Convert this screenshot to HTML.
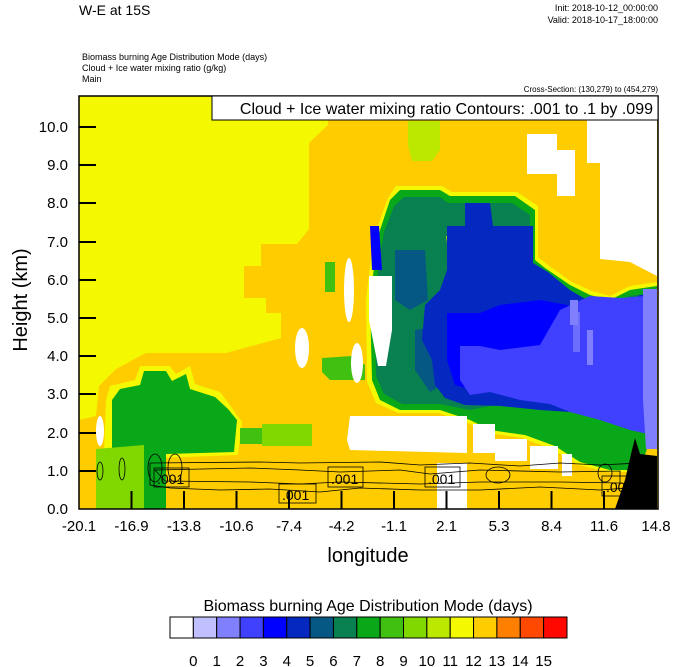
<!DOCTYPE html>
<html><head><meta charset="utf-8"><style>
html,body{margin:0;padding:0;background:#fff;}
svg{display:block;font-family:"Liberation Sans",Arial,sans-serif;}
</style></head><body>
<svg width="674" height="667" viewBox="0 0 674 667" xmlns="http://www.w3.org/2000/svg">
<text x="79" y="15" font-size="14">W-E at 15S</text>
<text x="658" y="11" font-size="9" text-anchor="end">Init: 2018-10-12_00:00:00</text>
<text x="658" y="23" font-size="9" text-anchor="end">Valid: 2018-10-17_18:00:00</text>
<text x="82" y="60" font-size="9">Biomass burning Age Distribution Mode    (days)</text>
<text x="82" y="71" font-size="9">Cloud + Ice water mixing ratio    (g/kg)</text>
<text x="82" y="82" font-size="9">Main</text>
<text x="658" y="92" font-size="8" text-anchor="end">Cross-Section: (130,279) to (454,279)</text>
<defs><clipPath id="c"><rect x="79" y="96" width="579" height="413"/></clipPath></defs>
<g clip-path="url(#c)">
<rect x="79" y="96" width="579" height="413" fill="#FFCC00"/>
<polygon fill="#F4F800" points="79,96 328,96 328,125 309,143 309,229 297,244 261,244 261,266 244,266 244,298 266,298 266,313 281,313 281,338 226,353 146,353 116,369 99,386 96,416 79,420"/>
<polygon fill="#BCE800" points="408,121 440,121 440,150 432,161 412,161 408,145"/>
<polygon fill="#F4F800" points="140,366 170,366 176,374 190,366 195,384 220,392 232,408 242,422 238,455 160,458 104,452 106,400 110,386 135,380"/>
<polygon fill="#08A818" points="144,371 166,371 172,381 186,374 190,389 215,397 228,409 237,420 234,452 166,454 112,450 112,400 120,389 140,385"/>
<polygon fill="#80D800" points="96,449 144,445 144,509 96,509"/>
<rect x="144" y="445" width="22" height="64" fill="#08A818"/>
<rect x="262" y="424" width="50" height="22" fill="#80D800"/>
<rect x="240" y="428" width="22" height="16" fill="#40C010"/>
<polygon fill="#40C010" points="322,358 352,356 365,365 365,380 330,380 322,372"/>
<rect x="325" y="262" width="10" height="30" fill="#40C010"/>
<polygon fill="#F4F800" points="396,186 442,186 452,192 517,192 538,206 538,257 548,265 572,282 592,291 610,296 630,286 657,282 657,440 650,440 640,472 608,472 578,465 552,449 522,438 488,433 468,423 438,413 398,413 376,403 367,382 366,300 371,258 377,228 388,198"/>
<polygon fill="#08A818" points="400,190 440,190 450,196 515,196 535,210 535,260 545,268 570,285 590,295 610,300 630,290 657,286 657,440 650,440 640,470 610,470 580,462 555,446 525,435 490,430 470,420 440,410 400,410 380,400 372,380 370,300 375,260 380,230 390,200"/>
<polygon fill="#088050" points="404,197 440,197 448,203 512,203 530,215 530,262 542,272 568,290 590,300 610,305 630,296 657,292 657,420 620,416 600,412 570,406 535,404 500,404 470,410 440,404 402,404 384,394 376,376 375,300 379,262 384,232 394,206"/>
<polygon fill="#065884" points="395,250 425,250 428,300 410,310 395,300"/>
<polygon fill="#065884" points="415,330 445,325 450,380 430,392 415,370"/>
<polygon fill="#BCE800" points="446,236 460,236 462,262 450,264"/>
<polygon fill="#0428C0" points="465,203 490,203 493,226 533,226 533,263 548,272 570,290 595,305 620,307 640,295 657,295 657,430 630,425 600,418 570,412 540,410 500,406 465,405 445,398 435,385 432,360 422,340 425,305 440,290 447,270 447,226 465,226"/>
<polygon fill="#0000FF" points="447,313 480,313 500,305 540,300 567,305 590,320 600,360 567,389 520,392 480,392 455,385 447,360"/>
<polygon fill="#0000FF" points="370,226 379,226 382,270 372,270"/>
<polygon fill="#4040FF" points="460,346 480,346 500,350 540,345 560,310 590,296 620,298 657,295 657,436 630,430 600,420 570,412 550,404 520,400 490,392 470,395 460,380"/>
<polygon fill="#8080FF" points="643,289 657,289 657,449 646,449 643,400"/>
<rect x="570" y="300" width="8" height="25" fill="#8080FF"/>
<rect x="587" y="330" width="6" height="35" fill="#8080FF"/>
<rect x="573" y="312" width="7" height="40" fill="#8080FF" opacity="0.7"/>
<g fill="#fff">
<ellipse cx="100" cy="431" rx="4" ry="15"/>
<ellipse cx="302" cy="348" rx="7" ry="20"/>
<ellipse cx="349" cy="290" rx="5" ry="32"/>
<ellipse cx="357" cy="363" rx="6" ry="20"/>
<polygon points="369,276 392,276 392,330 386,366 378,366 369,320"/>
<polygon points="350,416 467,416 467,453 350,450 347,440"/>
<rect x="473" y="424" width="22" height="29"/>
<rect x="495" y="439" width="32" height="22"/>
<rect x="530" y="446" width="28" height="23"/>
<rect x="562" y="454" width="10" height="22"/>
<polygon points="527,134 557,134 557,150 575,150 575,196 557,196 557,174 527,174"/>
<polygon points="587,96 657,96 657,276 630,262 600,259 600,163 587,163"/>
<rect x="437" y="463" width="30" height="46"/>
</g>
<polygon fill="#000" points="615,509 625,480 632,450 635,438 640,454 657,456 657,509"/>
<g fill="none" stroke="#000" stroke-width="0.8">
<path d="M150,463 L260,462 L300,463 L380,462 L420,465 L470,463 L520,466 L560,463 L600,465 L640,463 L640,487 L600,490 L540,487 L480,490 L420,490 L360,488 L320,492 L270,489 L220,490 L170,488 L150,485 Z"/>
<path d="M155,470 L250,468 L300,470 L340,472 L400,470 L430,474 L480,470 L560,472 L620,471 L620,483 L560,482 L480,482 L420,484 L340,482 L300,484 L250,482 L165,481 Z"/>
<ellipse cx="100" cy="471" rx="3" ry="9"/>
<ellipse cx="122" cy="469" rx="3" ry="11"/>
<ellipse cx="155" cy="468" rx="7" ry="14"/>
<ellipse cx="175" cy="468" rx="7" ry="14"/>
<ellipse cx="498" cy="475" rx="12" ry="8"/>
<ellipse cx="605" cy="473" rx="7" ry="9"/>
</g>
<g font-size="14">
<rect x="154" y="468" width="35" height="19" fill="none" stroke="#000" stroke-width="0.8"/><text x="157" y="484">.001</text>
<rect x="279" y="484" width="37" height="19" fill="none" stroke="#000" stroke-width="0.8"/><text x="282" y="500">.001</text>
<rect x="328" y="467" width="35" height="20" fill="none" stroke="#000" stroke-width="0.8"/><text x="331" y="484">.001</text>
<rect x="425" y="467" width="35" height="20" fill="none" stroke="#000" stroke-width="0.8"/><text x="428" y="484">.001</text>
<rect x="602" y="476" width="28" height="20" fill="none" stroke="#000" stroke-width="0.8"/><text x="606" y="492">.00</text>
</g>
</g>
<rect x="79" y="96" width="579" height="413" fill="none" stroke="#000" stroke-width="1.5"/>
<rect x="212" y="96" width="446" height="24" fill="#fff" stroke="#000" stroke-width="1"/>
<text x="653" y="114" font-size="16" text-anchor="end">Cloud + Ice water mixing ratio Contours: .001 to .1 by .099</text>
<g stroke="#000" stroke-width="2">
<line x1="79" y1="471" x2="96" y2="471"/><line x1="79" y1="433" x2="96" y2="433"/><line x1="79" y1="394" x2="96" y2="394"/><line x1="79" y1="356" x2="96" y2="356"/><line x1="79" y1="318" x2="96" y2="318"/><line x1="79" y1="280" x2="96" y2="280"/><line x1="79" y1="242" x2="96" y2="242"/><line x1="79" y1="203" x2="96" y2="203"/><line x1="79" y1="165" x2="96" y2="165"/><line x1="79" y1="127" x2="96" y2="127"/>
<line x1="131.5" y1="509" x2="131.5" y2="491"/><line x1="184" y1="509" x2="184" y2="491"/><line x1="236.5" y1="509" x2="236.5" y2="491"/><line x1="289" y1="509" x2="289" y2="491"/><line x1="341.5" y1="509" x2="341.5" y2="491"/><line x1="394" y1="509" x2="394" y2="491"/><line x1="446.5" y1="509" x2="446.5" y2="491"/><line x1="499" y1="509" x2="499" y2="491"/><line x1="551.5" y1="509" x2="551.5" y2="491"/><line x1="604" y1="509" x2="604" y2="491"/>
</g>
<g font-size="15" text-anchor="end">
<text x="68" y="514">0.0</text><text x="68" y="476">1.0</text><text x="68" y="438">2.0</text><text x="68" y="399">3.0</text><text x="68" y="361">4.0</text><text x="68" y="323">5.0</text><text x="68" y="285">6.0</text><text x="68" y="247">7.0</text><text x="68" y="208">8.0</text><text x="68" y="170">9.0</text><text x="68" y="132">10.0</text>
</g>
<g font-size="15" text-anchor="middle">
<text x="79" y="531">-20.1</text><text x="131.5" y="531">-16.9</text><text x="184" y="531">-13.8</text><text x="236.5" y="531">-10.6</text><text x="289" y="531">-7.4</text><text x="341.5" y="531">-4.2</text><text x="394" y="531">-1.1</text><text x="446.5" y="531">2.1</text><text x="499" y="531">5.3</text><text x="551.5" y="531">8.4</text><text x="604" y="531">11.6</text><text x="656" y="531">14.8</text>
</g>
<text x="368" y="562" font-size="20" text-anchor="middle">longitude</text>
<text transform="translate(27,300) rotate(-90)" font-size="20" text-anchor="middle">Height (km)</text>
<text x="368" y="611" font-size="16" text-anchor="middle">Biomass burning Age Distribution Mode  (days)</text>
<g stroke="#000" stroke-width="1">
<rect x="170" y="617" width="23.35" height="21" fill="#FFFFFF"/>
<rect x="193.35" y="617" width="23.35" height="21" fill="#C0C0FF"/>
<rect x="216.7" y="617" width="23.35" height="21" fill="#8080FF"/>
<rect x="240.05" y="617" width="23.35" height="21" fill="#4040FF"/>
<rect x="263.4" y="617" width="23.35" height="21" fill="#0000FF"/>
<rect x="286.75" y="617" width="23.35" height="21" fill="#0428C0"/>
<rect x="310.1" y="617" width="23.35" height="21" fill="#065884"/>
<rect x="333.45" y="617" width="23.35" height="21" fill="#088050"/>
<rect x="356.8" y="617" width="23.35" height="21" fill="#08A818"/>
<rect x="380.15" y="617" width="23.35" height="21" fill="#40C010"/>
<rect x="403.5" y="617" width="23.35" height="21" fill="#80D800"/>
<rect x="426.85" y="617" width="23.35" height="21" fill="#BCE800"/>
<rect x="450.2" y="617" width="23.35" height="21" fill="#F4F800"/>
<rect x="473.55" y="617" width="23.35" height="21" fill="#FFCC00"/>
<rect x="496.9" y="617" width="23.35" height="21" fill="#FF8000"/>
<rect x="520.25" y="617" width="23.35" height="21" fill="#FF4800"/>
<rect x="543.6" y="617" width="23.4" height="21" fill="#FF0800"/>
</g>
<g font-size="15" text-anchor="middle">
<text x="193.35" y="666">0</text><text x="216.7" y="666">1</text><text x="240.05" y="666">2</text><text x="263.4" y="666">3</text><text x="286.75" y="666">4</text><text x="310.1" y="666">5</text><text x="333.45" y="666">6</text><text x="356.8" y="666">7</text><text x="380.15" y="666">8</text><text x="403.5" y="666">9</text><text x="426.85" y="666">10</text><text x="450.2" y="666">11</text><text x="473.55" y="666">12</text><text x="496.9" y="666">13</text><text x="520.25" y="666">14</text><text x="543.6" y="666">15</text>
</g>
</svg>
</body></html>
